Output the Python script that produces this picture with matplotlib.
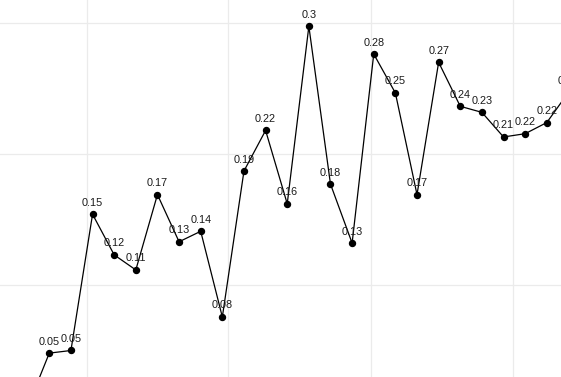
import matplotlib
matplotlib.use("Agg")
import matplotlib.pyplot as plt

# Data; first and last points lie just outside the visible window
x_index = list(range(1, 27))
values = [0.007, 0.048, 0.050, 0.154, 0.123, 0.1115, 0.169, 0.133, 0.141, 0.0756,
          0.187, 0.218, 0.162, 0.2975, 0.177, 0.132, 0.2763, 0.2466, 0.169, 0.270,
          0.2364, 0.2318, 0.213, 0.2155, 0.224, 0.247]
labels = [f"{round(v, 2):g}" for v in values]

x_grid = [3.743, 10.26, 16.89, 23.44]
y_grid = [0.1, 0.2, 0.3]

fig = plt.figure(figsize=(5.61, 3.77), dpi=100)
ax = fig.add_axes([0, 0, 1, 1])
ymin, ymax = 0.02977, 0.31756
ax.set_xlim(-0.279, 25.657)
ax.set_ylim(ymin, ymax)
for s in ax.spines.values():
    s.set_visible(False)
ax.set_xticks(x_grid)
ax.set_yticks(y_grid)
ax.tick_params(length=0, labelbottom=False, labelleft=False)
ax.grid(True, color="#EBEBEB", linewidth=0.9)
ax.set_axisbelow(True)

ax.plot(x_index, values, color="black", linewidth=0.9, marker="o", markersize=4.3,
        markerfacecolor="black", markeredgecolor="black")
for xi, v, lab in zip(x_index, values, labels):
    if v < ymin:
        continue  # its label would fall entirely below the visible window
    ax.annotate(lab, (xi, v), xytext=(0, 8.3), textcoords="offset points",
                ha="center", va="center", fontsize=7.8, family="Liberation Sans",
                color="#1a1a1a", annotation_clip=False)

fig.savefig("out.png", dpi=100)
